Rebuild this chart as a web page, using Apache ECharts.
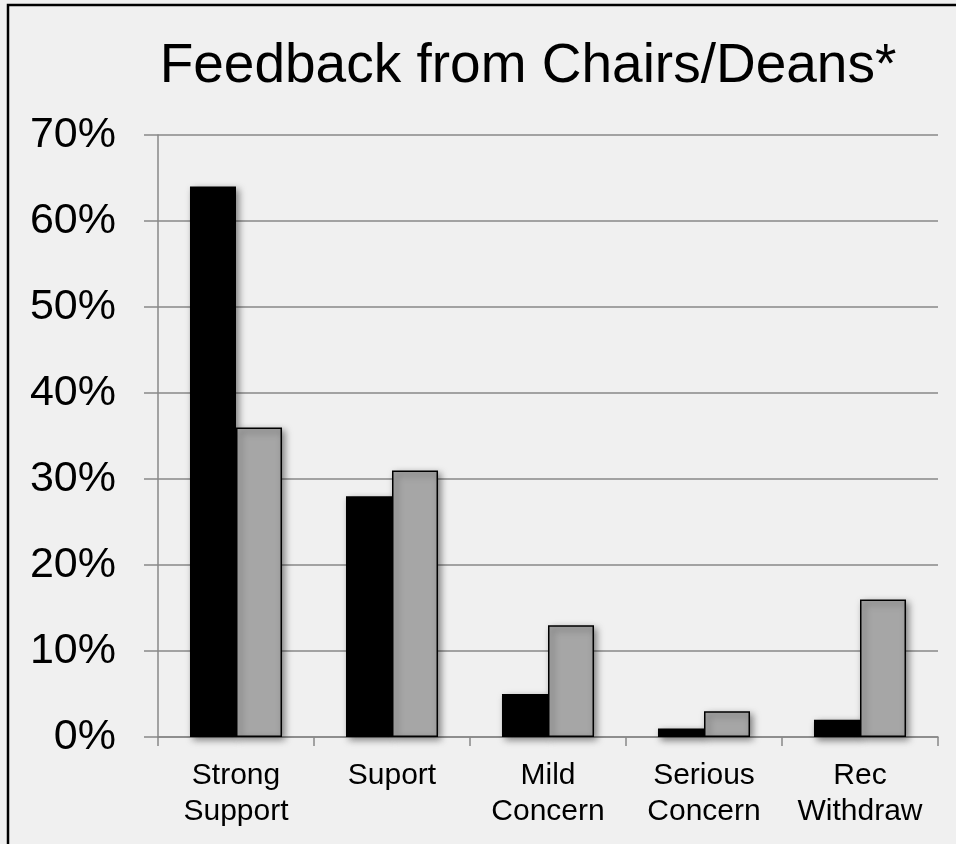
<!DOCTYPE html>
<html>
<head>
<meta charset="utf-8">
<script src="https://cdn.jsdelivr.net/npm/echarts@6/dist/echarts.min.js"></script>
<style>
  html, body { margin: 0; padding: 0; background: #f0f0f0; }
  #chart { width: 956px; height: 844px; }
</style>
</head>
<body>
<div id="chart"></div>
<script>
// Response categories and shares (%) for the two respondent groups
const categories = ['Strong\nSupport', 'Suport', 'Mild\nConcern', 'Serious\nConcern', 'Rec\nWithdraw'];
const seriesA = [64, 28, 5, 1, 2];
const seriesB = [36, 31, 13, 3, 16];
const yTicks = { min: 0, max: 70, interval: 10 };

const chart = echarts.init(document.getElementById('chart'));

const barShadow = {
  borderColor: '#000',
  borderWidth: 1.5,
  shadowColor: 'rgba(0,0,0,0.5)',
  shadowBlur: 7,
  shadowOffsetX: 3,
  shadowOffsetY: 3
};

chart.setOption({
  backgroundColor: '#f0f0f0',
  animation: false,
  title: {
    text: 'Feedback from Chairs/Deans*',
    left: 523,
    textAlign: 'center',
    top: 34,
    textStyle: {
      fontFamily: 'Liberation Sans, Arial, sans-serif',
      fontSize: 55,
      fontWeight: 'normal',
      color: '#000'
    }
  },
  graphic: [{
    type: 'rect',
    shape: { x: 8, y: 5, width: 1000, height: 900 },
    style: { fill: 'none', stroke: '#000', lineWidth: 2.5 },
    silent: true
  }],
  grid: { left: 158, right: 18, top: 135, bottom: 107 },
  xAxis: {
    type: 'category',
    data: categories,
    axisLine: { lineStyle: { color: '#888', width: 1.5 } },
    axisTick: { show: true, interval: 0, length: 9, lineStyle: { color: '#888', width: 1.5 } },
    axisLabel: {
      interval: 0,
      margin: 21,
      fontFamily: 'Liberation Sans, Arial, sans-serif',
      fontSize: 30,
      lineHeight: 36,
      color: '#000'
    }
  },
  yAxis: {
    type: 'value',
    min: yTicks.min,
    max: yTicks.max,
    interval: yTicks.interval,
    axisLine: { show: true, lineStyle: { color: '#888', width: 1.5 } },
    axisTick: { show: true, length: 14, lineStyle: { color: '#888', width: 1.5 } },
    splitLine: { lineStyle: { color: '#888', width: 1.5 } },
    axisLabel: {
      margin: 42,
      formatter: '{value}%',
      fontFamily: 'Liberation Sans, Arial, sans-serif',
      fontSize: 43,
      color: '#000'
    }
  },
  series: [
    {
      type: 'bar',
      data: seriesA,
      barGap: '0%',
      barCategoryGap: '41%',
      itemStyle: Object.assign({ color: '#000' }, barShadow)
    },
    {
      type: 'bar',
      data: seriesB,
      itemStyle: Object.assign({ color: '#a6a6a6' }, barShadow)
    }
  ]
});
</script>
</body>
</html>
